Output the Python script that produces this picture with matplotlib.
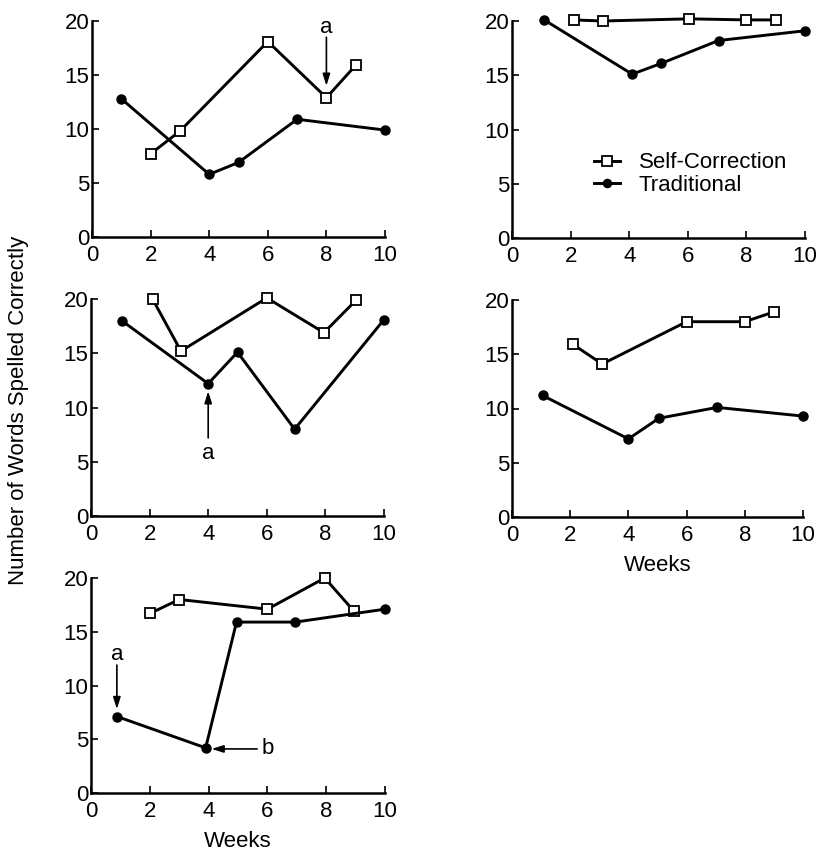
"""Words spelled correctly per week: self-correction vs traditional, five students."""

import matplotlib
matplotlib.use("Agg")
import matplotlib.pyplot as plt

plt.rcParams["font.family"] = ["Liberation Sans", "DejaVu Sans"]

# weeks for each condition
self_weeks = [
    [2, 3, 6, 8, 9],
    [2.1, 3.1, 6.05, 8.0, 9.0],
    [2.1, 3.07, 6.0, 7.95, 9.05],
    [2.1, 3.1, 6.0, 8.0, 9.0],
    [2.0, 3.0, 6.0, 7.95, 8.95],
]
self_values = [
    [7.7, 9.8, 18.1, 12.9, 15.9],
    [20.1, 20.0, 20.2, 20.1, 20.1],
    [20.0, 15.2, 20.1, 16.9, 19.9],
    [15.9, 14.1, 18.0, 18.0, 18.9],
    [16.7, 18.0, 17.1, 20.0, 16.9],
]
trad_weeks = [
    [1.0, 4.0, 5.0, 7.0, 10.0],
    [1.1, 4.1, 5.1, 7.05, 10.0],
    [1.05, 4.0, 5.0, 6.95, 10.0],
    [1.05, 4.0, 5.05, 7.05, 10.0],
    [0.9, 3.9, 4.95, 6.95, 10.0],
]
trad_values = [
    [12.8, 5.8, 6.9, 10.9, 9.9],
    [20.1, 15.1, 16.1, 18.2, 19.1],
    [18.0, 12.2, 15.1, 8.0, 18.1],
    [11.2, 7.2, 9.1, 10.1, 9.3],
    [7.1, 4.2, 15.9, 15.9, 17.1],
]

# (panel, label, arrow tip, arrow tail, text position)
annotations = [
    (0, "a", (8.0, 14.0), (8.0, 18.5), (8.0, 19.4)),
    (2, "a", (4.0, 11.5), (4.0, 7.2), (4.0, 5.8)),
    (4, "a", (0.88, 7.8), (0.88, 11.9), (0.88, 12.9)),
    (4, "b", (4.1, 4.1), (5.65, 4.1), (6.0, 4.1)),
]

FS = 16
W, H = 821, 856
# axes boxes in pixels: x0, x1, y_top, y_bottom
boxes = [
    (92, 385, 21, 237),
    (512, 805, 21, 238),
    (91, 384, 299, 516),
    (512, 803, 300, 517),
    (91, 385, 578, 793),
]

fig = plt.figure(figsize=(W / 100, H / 100), dpi=100)
axes = []
for x0, x1, yt, yb in boxes:
    ax = fig.add_axes([x0 / W, 1 - yb / H, (x1 - x0) / W, (yb - yt) / H])
    axes.append(ax)

for i, ax in enumerate(axes):
    ax.plot(self_weeks[i], self_values[i], color="black", lw=2.1, marker="s",
            markersize=7.5, markerfacecolor="white", markeredgecolor="black",
            markeredgewidth=1.3, clip_on=False, zorder=3, label="Self-Correction")
    ax.plot(trad_weeks[i], trad_values[i], color="black", lw=2.1, marker="o",
            markersize=6.5, markerfacecolor="black", markeredgecolor="black",
            clip_on=False, zorder=3, label="Traditional")
    ax.set_xlim(0, 10)
    ax.set_ylim(0, 20)
    ax.set_xticks([0, 2, 4, 6, 8, 10])
    ax.set_yticks([0, 5, 10, 15, 20])
    for side in ("top", "right"):
        ax.spines[side].set_visible(False)
    for side in ("left", "bottom"):
        ax.spines[side].set_linewidth(1.8)
    ax.tick_params(direction="in", length=5, width=1.2, labelsize=FS)
    ax.tick_params(axis="x", pad=6)
    ax.tick_params(axis="y", pad=2)

for panel, label, tip, tail, pos in annotations:
    ax = axes[panel]
    ax.annotate("", xy=tip, xytext=tail,
                arrowprops=dict(arrowstyle="-|>,head_length=0.7,head_width=0.22",
                                color="black", lw=1.2, shrinkA=0, shrinkB=0))
    ax.text(pos[0], pos[1], label, ha="center", va="center", fontsize=FS)

axes[1].legend(loc="upper left", bbox_to_anchor=(0.28, 0.395), frameon=False,
               fontsize=FS, handlelength=1.17, handletextpad=0.85,
               borderaxespad=0, borderpad=0, labelspacing=0.07, markerscale=0.9)

axes[3].set_xlabel("Weeks", fontsize=FS, labelpad=6)
axes[4].set_xlabel("Weeks", fontsize=FS, labelpad=6)

fig.text(0.022, 0.521, "Number of Words Spelled Correctly", rotation=90,
         ha="center", va="center", fontsize=FS)

fig.savefig("out.png", dpi=100)
